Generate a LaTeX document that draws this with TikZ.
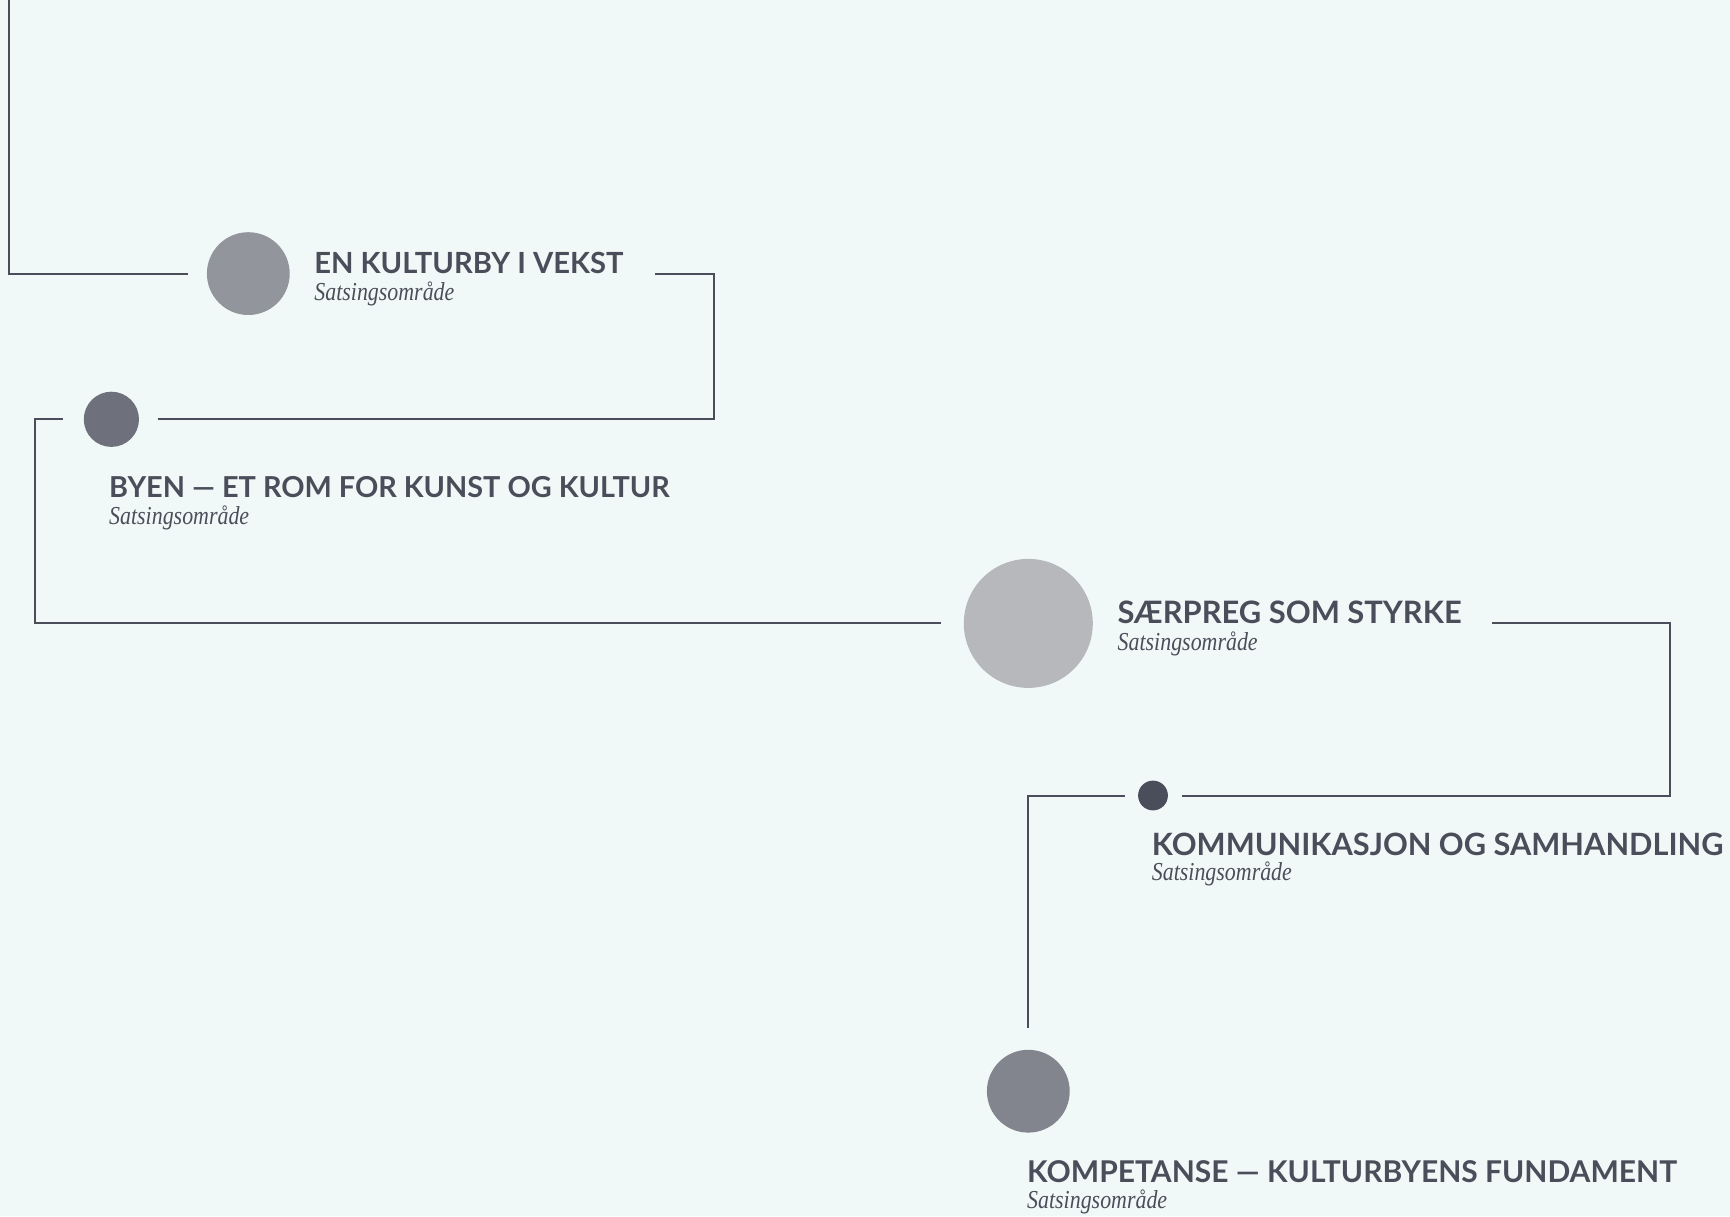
\documentclass[tikz,border=0pt]{standalone}
\usepackage{fontspec}
\setmainfont{Liberation Serif}
\newfontfamily\headfont{Lato}
\definecolor{bgc}{HTML}{F1F9F8}
\definecolor{ink}{HTML}{4A4E5A}
\definecolor{cA}{HTML}{92959C}
\definecolor{cB}{HTML}{6E707B}
\definecolor{cC}{HTML}{B6B8BC}
\definecolor{cD}{HTML}{4A4D5A}
\definecolor{cE}{HTML}{82858E}
\newcommand{\headtxt}[2]{\resizebox{#1pt}{!}{\headfont\bfseries\fontsize{28}{30}\selectfont #2}}
\newcommand{\subtxt}{\scalebox{1}[1.18]{\resizebox{140pt}{!}{\itshape\fontsize{22}{24}\selectfont Satsingsområde}}}
\begin{document}
\begin{tikzpicture}[x=1pt,y=-1pt,
  dot/.style={circle,inner sep=0pt,outer sep=0pt,draw=none},
  conn/.style={draw=ink,line width=2pt},
  head/.style={anchor=base west,inner sep=0pt,outer sep=0pt,text=ink},
  sub/.style={anchor=base west,inner sep=0pt,outer sep=0pt,text=ink}]
\fill[bgc] (0,0) rectangle (1730,1216);
\useasboundingbox (0,0) rectangle (1730,1216);

% circles
\node[dot,fill=cA,minimum size=82.8pt] (c1) at (248.3,273.6) {};
\node[dot,fill=cB,minimum size=55.2pt] (c2) at (111.4,419.3) {};
\node[dot,fill=cC,minimum size=129pt] (c3) at (1028.3,623.4) {};
\node[dot,fill=cD,minimum size=29.8pt] (c4) at (1153,795.5) {};
\node[dot,fill=cE,minimum size=82.8pt] (c5) at (1028.3,1091.2) {};

% titles
\node[head] (t1) at (314.4,273.6) {\headtxt{309}{EN KULTURBY I VEKST}};
\node[sub] (s1) at (314.4,300) {\subtxt};
\node[head] (t2) at (109.2,497.6) {\headtxt{560.5}{BYEN — ET ROM FOR KUNST OG KULTUR}};
\node[sub] (s2) at (109.2,524) {\subtxt};
\node[head] (t3) at (1117.7,623.4) {\headtxt{344}{SÆRPREG SOM STYRKE}};
\node[sub] (s3) at (1117.7,650) {\subtxt};
\node[head] (t4) at (1151.9,855) {\headtxt{571.5}{KOMMUNIKASJON OG SAMHANDLING}};
\node[sub] (s4) at (1151.9,880) {\subtxt};
\node[head] (t5) at (1027.2,1182.7) {\headtxt{649.8}{KOMPETANSE — KULTURBYENS FUNDAMENT}};
\node[sub] (s5) at (1027.2,1208) {\subtxt};

% connector end points
\coordinate (top) at (8.8,-2);
\coordinate (a1) at (187.6,273.6);
\coordinate (b1) at (655.4,273.6);
\coordinate (a2) at (157.8,419.3);
\coordinate (b2) at (62.9,419.3);
\coordinate (a3) at (941.1,623.4);
\coordinate (b3) at (1491.7,623.4);
\coordinate (a4) at (1181.7,795.5);
\coordinate (b4) at (1125.4,795.5);
\coordinate (a5) at (1028.3,1028.3);

% connectors
\draw[conn] (top) |- (a1);
\draw[conn] (b1) -- (713.9,273.6) |- (a2);
\draw[conn] (b2) -- (35.3,419.3) |- (a3);
\draw[conn] (b3) -- (1670.4,623.4) |- (a4);
\draw[conn] (b4) -| (a5);
\end{tikzpicture}
\end{document}
